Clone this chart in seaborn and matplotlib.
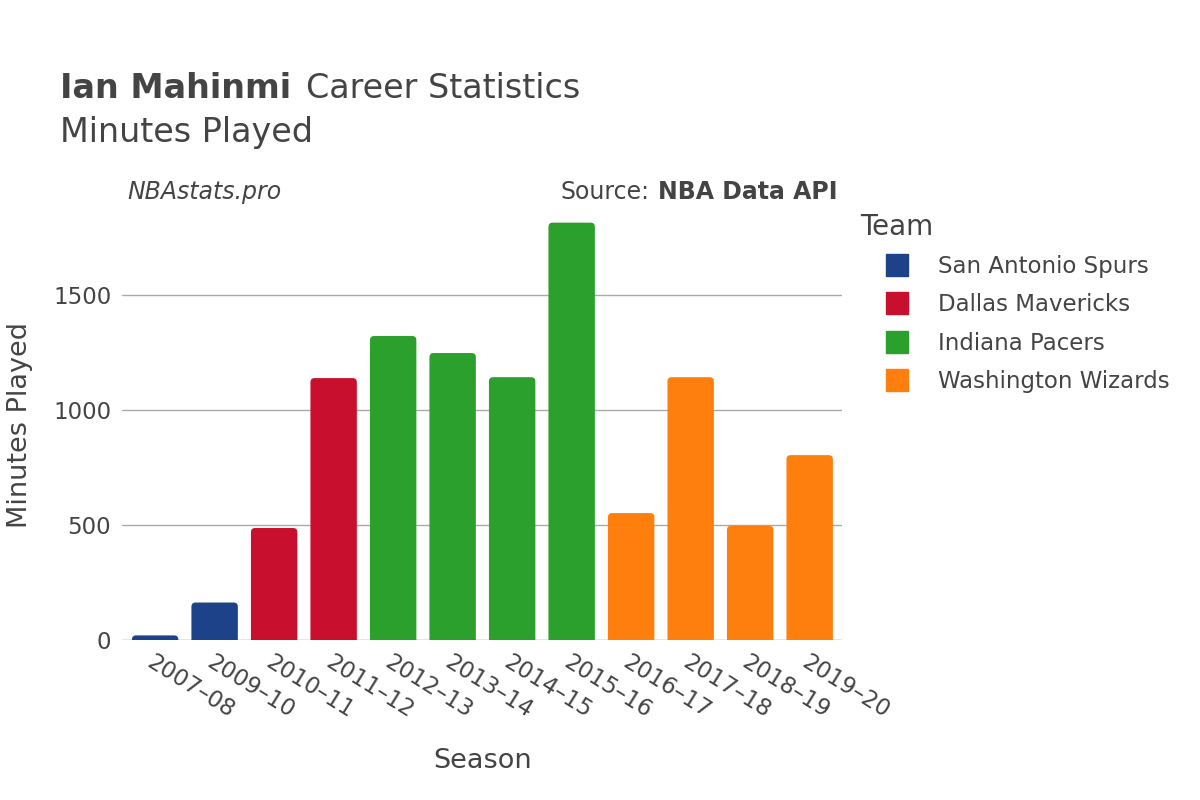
import pandas as pd
import seaborn as sns
import matplotlib.pyplot as plt
from matplotlib.patches import FancyBboxPatch
from matplotlib.lines import Line2D

seasons = ["2007–08", "2009–10", "2010–11", "2011–12", "2012–13", "2013–14",
           "2014–15", "2015–16", "2016–17", "2017–18", "2018–19", "2019–20"]
teams = ["San Antonio Spurs", "San Antonio Spurs", "Dallas Mavericks", "Dallas Mavericks",
         "Indiana Pacers", "Indiana Pacers", "Indiana Pacers", "Indiana Pacers",
         "Washington Wizards", "Washington Wizards", "Washington Wizards", "Washington Wizards"]
minutes = [20, 163, 487, 1139, 1322, 1248, 1143, 1815, 552, 1143, 497, 804]

team_order = ["San Antonio Spurs", "Dallas Mavericks", "Indiana Pacers", "Washington Wizards"]
team_colors = ["#1d428a", "#c8102e", "#2ca02c", "#ff7f0e"]

df = pd.DataFrame({"Season": seasons, "Team": teams, "Minutes": minutes})

sns.set_theme(style="white")
plt.rcParams['font.family'] = ['DejaVu Sans']
text_color = "#444444"

fig = plt.figure(figsize=(12, 8), dpi=100)
ax = fig.add_axes([0.102, 0.2, 0.6, 0.5375])

sns.barplot(data=df, x="Season", y="Minutes", hue="Team", hue_order=team_order,
            palette=team_colors, dodge=False, width=0.78, saturation=1, ax=ax, legend=False)

ymax = 1870
ax.set_ylim(0, ymax)
ax.set_xlim(-0.55, 11.55)

# aspect between y units and x units per pixel, used for the rounded corners
x_per_px = 12.1 / 720
y_per_px = ymax / 430
aspect = y_per_px / x_per_px
r = 0.07

# swap the plain rectangles for rounded ones
for p in list(ax.patches):
    h = p.get_height()
    if h <= 0:
        continue
    x, w = p.get_x(), p.get_width()
    rr = FancyBboxPatch((x, -r * aspect), w, h + r * aspect,
                        boxstyle="round,pad=0,rounding_size={}".format(r),
                        mutation_aspect=aspect,
                        facecolor=p.get_facecolor(), edgecolor="none", zorder=3)
    p.set_visible(False)
    ax.add_patch(rr)

ax.set_yticks([0, 500, 1000, 1500])
ax.yaxis.grid(True, color="#aaaaaa", linewidth=1)
ax.set_axisbelow(True)
ax.axhline(0, color="#e6e6e6", linewidth=2, zorder=2)
for s in ax.spines.values():
    s.set_visible(False)
ax.tick_params(axis="both", length=0, labelsize=16.5, colors=text_color, pad=8)
plt.setp(ax.get_xticklabels(), rotation=-32, ha="left", rotation_mode="anchor")
ax.set_xlabel("Season", fontsize=19.5, color=text_color, labelpad=18)
ax.set_ylabel("Minutes Played", fontsize=19.5, color=text_color, labelpad=14.5)

handles = [Line2D([0], [0], linestyle="none", marker="s", markersize=16,
                  markerfacecolor=c, markeredgecolor=c, label=t)
           for t, c in zip(team_order, team_colors)]
leg = ax.legend(handles=handles, loc="upper left", bbox_to_anchor=(1.047, 0.916),
                frameon=False, fontsize=16.5, handlelength=1.0,
                labelspacing=0.66, handletextpad=1.3, borderaxespad=0)
for t in leg.get_texts():
    t.set_color(text_color)
fig.text(860 / 1200, 1 - 227 / 800, "Team", fontsize=20, color=text_color, va="center")

t1 = fig.text(0.05, 0.89, "Ian Mahinmi", fontsize=24, fontweight="bold", color=text_color, va="center")
fig.text(0.05, 0.834, "Minutes Played", fontsize=24, color=text_color, va="center")
fig.text(0.106, 0.76, "NBAstats.pro", fontsize=17, style="italic", color=text_color, va="center")
s2 = fig.text(0.698, 0.76, "NBA Data API", fontsize=17, fontweight="bold", color=text_color,
              va="center", ha="right")

fig.canvas.draw()
rend = fig.canvas.get_renderer()
bb = t1.get_window_extent(rend)
fig.text(bb.x1 / 1200 + 0.012, 0.89, "Career Statistics", fontsize=24, color=text_color, va="center")
bb2 = s2.get_window_extent(rend)
fig.text(bb2.x0 / 1200 - 0.007, 0.76, "Source:", fontsize=17, color=text_color, va="center", ha="right")

fig.savefig("out.png", dpi=100)
